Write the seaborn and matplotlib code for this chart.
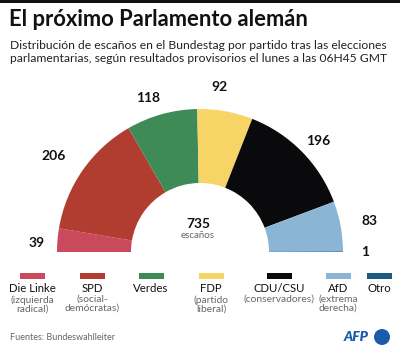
import matplotlib
matplotlib.use('Agg')
import matplotlib.pyplot as plt
import seaborn as sns
from matplotlib.patches import Rectangle, Circle

# ---- data ----
parties = ["Die Linke", "SPD", "Verdes", "FDP", "CDU/CSU", "AfD", "Otro"]
sublabels = ["(izquierda\nradical)", "(social-\ndemócratas)", "", "(partido\nliberal)",
             "(conservadores)", "(extrema\nderecha)", ""]
seats = [39, 206, 118, 92, 196, 83, 1]
colors = ["#c94a5c", "#b13c30", "#3f8b58", "#f7d466", "#0a0a0c", "#8bb5d5", "#1d5a80"]
total_seats = 735

title = "El próximo Parlamento alemán"
subtitle = ("Distribución de escaños en el Bundestag por partido tras las elecciones\n"
            "parlamentarias, según resultados provisorios el lunes a las 06H45 GMT")
source = "Fuentes: Bundeswahlleiter"

# ---- layout (pixels) ----
W, H = 400, 351
label_xy = [(37, 243), (54, 156), (148, 98), (219, 87), (318, 141), (370, 221), (365, 252)]
legend_x = [32, 92, 151, 211, 279, 338, 379]

sns.set_theme(style="white")
plt.rcParams['font.family'] = ['Lato', 'DejaVu Sans']

fig = plt.figure(figsize=(W / 100, H / 100), dpi=100)
ax = fig.add_axes([0, 0, 1, 1])

def Y(y):
    return H - y

wedges, _ = ax.pie(seats + [sum(seats)], colors=colors + ["white"], startangle=180,
                   counterclock=False, radius=143, center=(200, Y(252)),
                   wedgeprops=dict(width=74, linewidth=0))
wedges[-1].set_visible(False)
ax.set_xlim(0, W)
ax.set_ylim(0, H)
ax.set_aspect('auto')
ax.axis('off')

# top bar
ax.add_patch(Rectangle((0, Y(3)), W, 3, color="#111111", lw=0))

ax.text(9, Y(20), title, fontsize=15.8, fontweight='bold', va='center', ha='left', color="#111111")
ax.text(10, Y(52), subtitle, fontsize=8.7, va='center', ha='left', color="#222222", linespacing=1.15)

for (x, y), v in zip(label_xy, seats):
    ax.text(x, Y(y), str(v), fontsize=10, fontweight='bold', ha='center', va='center', color="#111111")

ax.text(198, Y(224), str(total_seats), fontsize=10, fontweight='bold', ha='center', va='center', color="#111111")
ax.text(198, Y(236), "escaños", fontsize=7, ha='center', va='center', color="#666666")

for x, name, sub, c in zip(legend_x, parties, sublabels, colors):
    ax.add_patch(Rectangle((x - 12.5, Y(279)), 25, 6, color=c, lw=0))
    ax.text(x, Y(289), name, fontsize=8.2, ha='center', va='center', color="#111111")
    if sub:
        ax.text(x, Y(295), sub, fontsize=7.4, ha='center', va='top', color="#666666", linespacing=1.0)

ax.text(10, Y(338), source, fontsize=6.5, ha='left', va='center', color="#666666")
ax.text(369, Y(337), "AFP", fontsize=10, fontweight='heavy', style='italic', ha='right', va='center', color="#1b5ca8")
ax.add_patch(Circle((382, Y(337)), 8, color="#1b5ca8", lw=0))

fig.savefig("out.png", dpi=100)
